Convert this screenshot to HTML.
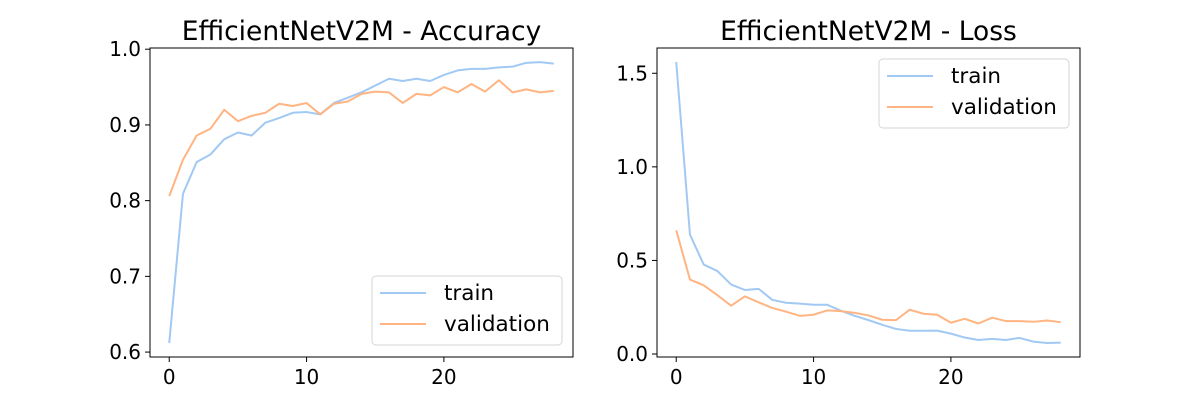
<!DOCTYPE html>
<html><head><meta charset="utf-8"><style>
body{margin:0;background:#fff;}
svg text{font-family:"DejaVu Sans","Liberation Sans",sans-serif;fill:#000;}
</style></head><body>
<svg id="chart" width="1200" height="400" xmlns="http://www.w3.org/2000/svg"></svg>
<script>
const epochs = [0,1,2,3,4,5,6,7,8,9,10,11,12,13,14,15,16,17,18,19,20,21,22,23,24,25,26,27,28];
const accTrain = [0.612,0.809,0.851,0.861,0.881,0.890,0.886,0.903,0.909,0.916,0.917,0.914,0.929,0.936,0.943,0.952,0.961,0.958,0.961,0.958,0.966,0.972,0.974,0.974,0.976,0.977,0.982,0.983,0.981];
const accVal = [0.806,0.854,0.886,0.895,0.920,0.905,0.912,0.916,0.928,0.925,0.929,0.914,0.928,0.931,0.941,0.944,0.943,0.929,0.941,0.939,0.950,0.943,0.954,0.944,0.959,0.943,0.947,0.943,0.945];
const lossTrain = [1.56,0.638,0.478,0.443,0.371,0.342,0.348,0.289,0.274,0.269,0.263,0.263,0.231,0.204,0.181,0.156,0.134,0.124,0.124,0.125,0.109,0.088,0.075,0.081,0.075,0.086,0.066,0.059,0.061];
const lossVal = [0.661,0.398,0.367,0.314,0.258,0.308,0.276,0.246,0.226,0.204,0.210,0.233,0.229,0.220,0.206,0.183,0.181,0.237,0.215,0.210,0.167,0.188,0.163,0.194,0.176,0.176,0.172,0.179,0.170];
const xTicks = [0,10,20];
const accTicks = [0.6,0.7,0.8,0.9,1.0];
const lossTicks = [0.0,0.5,1.0,1.5];

const NS='http://www.w3.org/2000/svg';
const svg=document.getElementById('chart');
function mk(tag,attrs,parent){const e=document.createElementNS(NS,tag);for(const k in attrs)e.setAttribute(k,attrs[k]);(parent||svg).appendChild(e);return e;}

function panel(cfg){
  const g=mk('g',{});
  
  
  const L=cfg.left,R=cfg.left+423,T=48,B=357;
  const xs=v=>L+(v-(-1.4))/(29.4-(-1.4))*(R-L);
  const ys=v=>B-(v-cfg.ymin)/(cfg.ymax-cfg.ymin)*(B-T);
  const series=[[cfg.train,'#a1c9f4','train'],[cfg.val,'#ffb482','validation']];
  series.forEach(s=>{
    const p=mk('polyline',{points:epochs.map((e,i)=>xs(e).toFixed(2)+','+ys(s[0][i]).toFixed(2)).join(' '),fill:'none',stroke:s[1],'stroke-width':2,'stroke-linejoin':'round'},g);
    
    
  });
  const fr=mk('rect',{x:L,y:T,width:R-L,height:B-T,fill:'none',stroke:'#000','stroke-width':1},g);
  
  
  xTicks.forEach(t=>{
    const x=xs(t);
    mk('line',{x1:x,x2:x,y1:B,y2:B+5,stroke:'#000'},g);
    const tx=mk('text',{x:x,y:B+27,'text-anchor':'middle','font-size':20},g);
    tx.textContent=t;
    
    
  });
  cfg.yticks.forEach(t=>{
    const y=ys(t);
    mk('line',{x1:L-5,x2:L,y1:y,y2:y,stroke:'#000'},g);
    const tx=mk('text',{x:L-9,y:y+7,'text-anchor':'end','font-size':20},g);
    tx.textContent=t.toFixed(1);
    
    
  });
  const ti=mk('text',{x:(L+R)/2,y:40,'text-anchor':'middle','font-size':26.5},g);
  ti.textContent=cfg.title;
  
  
  const lg=mk('g',{},g);
  
  
  mk('rect',{x:cfg.lx,y:cfg.ly,width:190,height:69,rx:4,fill:'#fff','fill-opacity':0.8,stroke:'#d5d5d5'},lg);
  series.forEach((s,i)=>{
    const y=cfg.ly+17+i*31;
    mk('line',{x1:cfg.lx+8,x2:cfg.lx+54,y1:y,y2:y,stroke:s[1],'stroke-width':2},lg);
    const t=mk('text',{x:cfg.lx+72,y:y+7,'font-size':21.5},lg);
    t.textContent=s[2];
    
    
  });
}
panel({name:'accuracy-chart',left:150,ymin:0.5935,ymax:1.0016,train:accTrain,val:accVal,yticks:accTicks,title:'EfficientNetV2M - Accuracy',lx:372,ly:276});
panel({name:'loss-chart',left:657,ymin:-0.016,ymax:1.635,train:lossTrain,val:lossVal,yticks:lossTicks,title:'EfficientNetV2M - Loss',lx:879,ly:59});
</script>
</body></html>
